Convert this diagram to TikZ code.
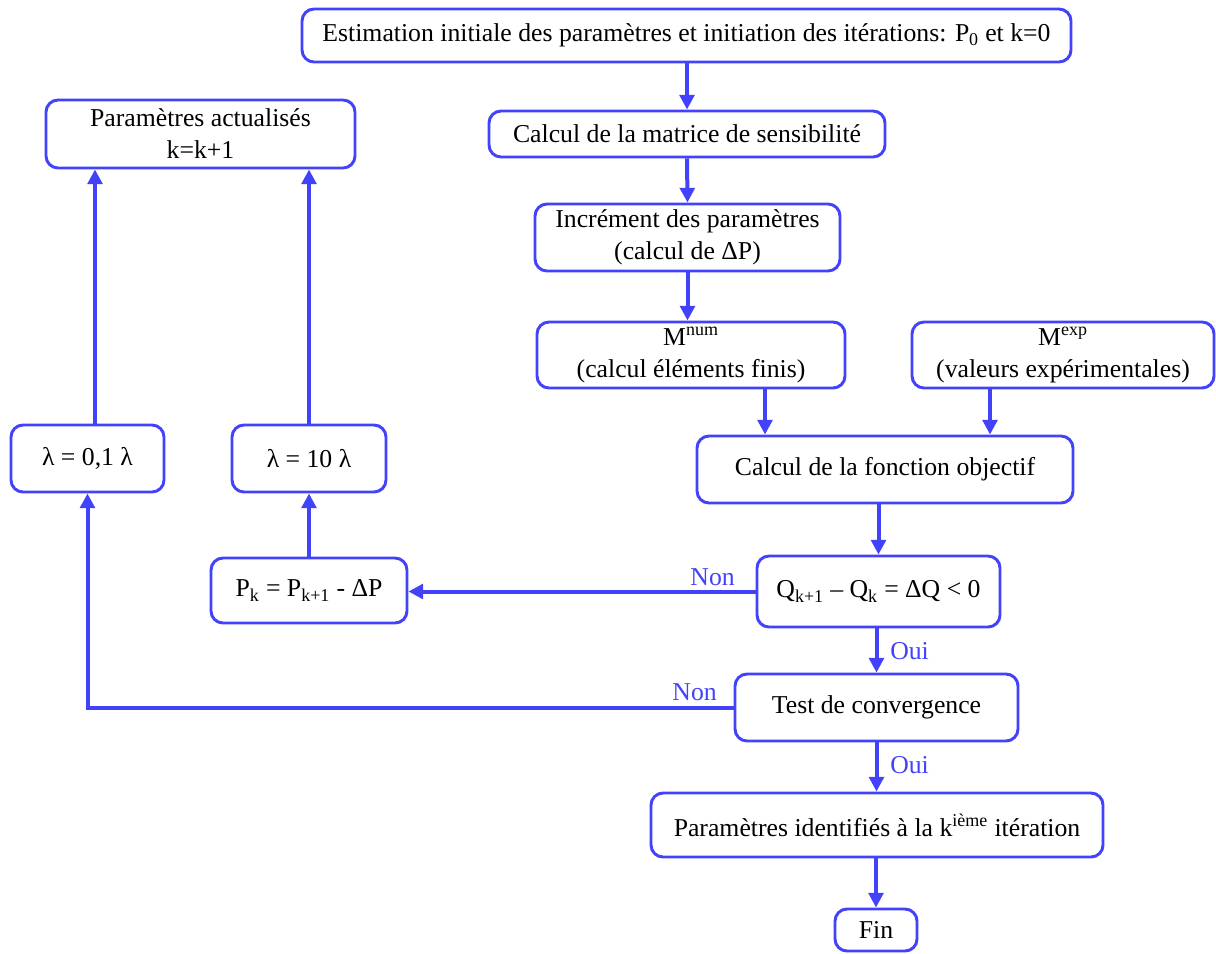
\documentclass[tikz,border=0pt]{standalone}
\usepackage{fontspec}
\setmainfont{Liberation Serif}
\usetikzlibrary{arrows.meta}
\definecolor{bl}{RGB}{66,66,250}
\begin{document}
\begin{tikzpicture}[x=0.75pt,y=-0.75pt,
  box/.style={draw=bl, line width=2.2pt, rounded corners=9pt, align=center, inner sep=0pt,
    font=\fontsize{19.3pt}{24pt}\selectfont},
  arr/.style={draw=bl, line width=3pt, -{Triangle[length=11pt,width=11pt]}},
  lbl/.style={text=bl, inner sep=0pt, font=\fontsize{19.3pt}{24pt}\selectfont}]
\useasboundingbox (0,0) rectangle (1216,953);
\node[box, minimum width=576.75pt, minimum height=39.75pt] (top) at (686.5,35.5)
  {Estimation initiale des paramètres et initiation des itérations: P\textsubscript{0} et k=0};
\node[box, minimum width=231.75pt, minimum height=51pt] (parAct) at (200.5,134)
  {Paramètres actualisés\\k=k+1};
\node[box, minimum width=297pt, minimum height=34.5pt] (matrice) at (687,134)
  {Calcul de la matrice de sensibilité};
\node[box, minimum width=228.75pt, minimum height=50.25pt] (incr) at (687.5,237.5)
  {Incrément des paramètres\\(calcul de ΔP)};
\node[box, minimum width=231pt, minimum height=49.5pt] (mnum) at (691,355)
  {M\textsuperscript{num}\\(calcul éléments finis)};
\node[box, minimum width=226.5pt, minimum height=49.5pt] (mexp) at (1063,355)
  {M\textsuperscript{exp}\\(valeurs expérimentales)};
\node[box, minimum width=282pt, minimum height=50.25pt] (fobj) at (885,469.5)
  {Calcul de la fonction objectif};
\node[box, minimum width=182.25pt, minimum height=53.25pt] (qbox) at (878.5,591.5)
  {Q\textsubscript{k+1} – Q\textsubscript{k} = ΔQ < 0};
\node[box, minimum width=147pt, minimum height=48.75pt] (pk) at (309,590.5)
  {P\textsubscript{k} = P\textsubscript{k+1} - ΔP};
\node[box, minimum width=115.5pt, minimum height=50.25pt] (lamten) at (309,458.5)
  {λ = 10 λ};
\node[box, minimum width=114.75pt, minimum height=50.25pt] (lamtenth) at (87.5,458.5)
  {λ = 0,1 λ};
\node[box, minimum width=212.25pt, minimum height=50.25pt] (test) at (876.5,707.5)
  {Test de convergence};
\node[box, minimum width=339pt, minimum height=48pt] (ident) at (877,825)
  {Paramètres identifiés à la k\textsuperscript{ième} itération};
\node[box, minimum width=61.5pt, minimum height=31.5pt] (fin) at (876,930)
  {Fin};
% labels
\node[lbl, anchor=east] (non1) at (735,577) {Non};
\node[lbl, anchor=west] (oui1) at (890,651) {Oui};
\node[lbl, anchor=east] (non2) at (717,692) {Non};
\node[lbl, anchor=west] (oui2) at (890,765) {Oui};
% helper coordinates
\coordinate (xmnum) at (765,0);
\coordinate (xmexp) at (990,0);
\coordinate (xup) at (95,0);
% connectors
\draw[arr] (top.south -| matrice.north) -- (matrice.north);
\draw[arr] (matrice.south) -- (incr.north);
\draw[arr] (incr.south) -- (incr.south |- mnum.north);
\draw[arr] (xmnum |- mnum.south) -- (xmnum |- fobj.north);
\draw[arr] (xmexp |- mexp.south) -- (xmexp |- fobj.north);
\draw[arr] (fobj.south -| qbox.north) -- (qbox.north);
\draw[arr] (qbox.west) -- (qbox.west -| pk.east);
\draw[arr] (pk.north) -- (lamten.south);
\draw[arr] (lamten.north) -- (lamten.north |- parAct.south);
\draw[arr] (xup |- lamtenth.north) -- (xup |- parAct.south);
\draw[arr] (qbox.south -| test.north) -- (test.north);
\draw[arr] (test.west) -| (lamtenth.south);
\draw[arr] (test.south) -- (test.south |- ident.north);
\draw[arr] (ident.south -| fin.north) -- (fin.north);
\end{tikzpicture}
\end{document}
